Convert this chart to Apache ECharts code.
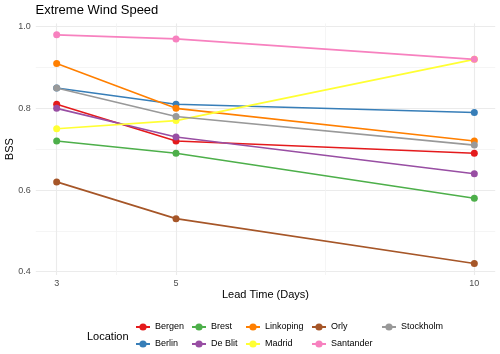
<!DOCTYPE html>
<html>
<head>
<meta charset="utf-8">
<script src="https://cdn.jsdelivr.net/npm/echarts@6/dist/echarts.min.js"></script>
<style>
  html, body { margin: 0; padding: 0; background: #fff; }
  #chart { width: 500px; height: 354px; }
</style>
</head>
<body>
<div id="chart"></div>
<script>
// lead times (days) on the x axis
const days = [3, 5, 10]
const xTicks = [3, 5, 10]
const xMinor = [4, 7.5]
const yTicks = [0.4, 0.6, 0.8, 1.0]
const yMinor = [0.5, 0.7, 0.9]

const locations = ['Bergen', 'Berlin', 'Brest', 'De Blit', 'Linkoping', 'Madrid', 'Orly', 'Santander', 'Stockholm']

// BSS per location at 3, 5, 10 days
const bergen = [0.81, 0.72, 0.69]
const berlin = [0.85, 0.81, 0.79]
const brest = [0.72, 0.69, 0.58]
const deBilt = [0.80, 0.73, 0.64]
const linkoping = [0.91, 0.80, 0.72]
const madrid = [0.75, 0.77, 0.92]
const orly = [0.62, 0.53, 0.42]
const santander = [0.98, 0.97, 0.92]
const stockholm = [0.85, 0.78, 0.71]

const values = [bergen, berlin, brest, deBilt, linkoping, madrid, orly, santander, stockholm]
const colors = ['#E41A1C', '#377EB8', '#4DAF4A', '#984EA3', '#FF7F00', '#FFFF33', '#A65628', '#F781BF', '#999999']

// legend is laid out column by column, like ggplot
const legendCols = [
  ['Bergen', 'Berlin'],
  ['Brest', 'De Blit'],
  ['Linkoping', 'Madrid'],
  ['Orly', 'Santander'],
  ['Stockholm'],
]
const legendLefts = [135, 191, 245, 311, 381]

const font = 'Liberation Sans, Arial, sans-serif'
const xMin = 2.65, xMax = 10.35
const yMin = 0.392, yMax = 1.008

const myChart = echarts.init(document.getElementById('chart'))

const series = locations.map((name, i) => ({
  name: name,
  type: 'line',
  data: days.map((d, j) => [d, values[i][j]]),
  symbol: 'circle',
  symbolSize: 7,
  color: colors[i],
  lineStyle: { width: 1.6 },
  emphasis: { disabled: true },
  animation: false,
}))

const legends = legendCols.map((col, i) => ({
  data: col,
  orient: 'vertical',
  left: legendLefts[i],
  top: 322,
  padding: 0,
  itemWidth: 14,
  itemHeight: 9,
  itemGap: 7,
  selectedMode: false,
  textStyle: { fontSize: 9, color: '#000', fontFamily: font, lineHeight: 10 },
}))

const minorAxis = {
  type: 'value',
  axisLine: { show: false },
  axisLabel: { show: false },
  splitLine: { show: true, lineStyle: { color: '#f3f3f3', width: 0.8 } },
}

const option = {
  backgroundColor: '#fff',
  title: {
    text: 'Extreme Wind Speed',
    left: 35.5,
    top: 4,
    padding: 0,
    textStyle: { fontSize: 13, fontWeight: 'normal', color: '#000', fontFamily: font },
  },
  legend: legends,
  graphic: [
    {
      type: 'text',
      left: 87,
      top: 331,
      style: { text: 'Location', fontSize: 11, fill: '#000', font: '11px ' + font },
    },
  ],
  grid: { left: 35.8, right: 4.8, top: 23.4, bottom: 79, outerBoundsMode: 'none' },
  xAxis: [
    {
      type: 'value',
      min: xMin,
      max: xMax,
      name: 'Lead Time (Days)',
      nameLocation: 'middle',
      nameGap: 14,
      nameMoveOverlap: false,
      nameTextStyle: { fontSize: 11, color: '#000', fontFamily: font },
      axisLine: { show: false },
      axisTick: { show: false, customValues: xTicks },
      axisLabel: { customValues: xTicks, margin: 4, fontSize: 9, color: '#4d4d4d', fontFamily: font },
      splitLine: { show: true, lineStyle: { color: '#ebebeb', width: 1.1 } },
    },
    { ...minorAxis, min: xMin, max: xMax, position: 'bottom', axisTick: { show: false, customValues: xMinor } },
  ],
  yAxis: [
    {
      type: 'value',
      min: yMin,
      max: yMax,
      name: 'BSS',
      nameLocation: 'middle',
      nameGap: 20,
      nameMoveOverlap: false,
      nameTextStyle: { fontSize: 11, color: '#000', fontFamily: font },
      axisLine: { show: false },
      axisTick: { show: false, customValues: yTicks },
      axisLabel: {
        customValues: yTicks,
        margin: 5,
        fontSize: 9,
        color: '#4d4d4d',
        fontFamily: font,
        formatter: (v) => v.toFixed(1),
      },
      splitLine: { show: true, lineStyle: { color: '#ebebeb', width: 1.1 } },
    },
    { ...minorAxis, min: yMin, max: yMax, position: 'left', axisTick: { show: false, customValues: yMinor } },
  ],
  series: series,
}

myChart.setOption(option)
</script>
</body>
</html>
